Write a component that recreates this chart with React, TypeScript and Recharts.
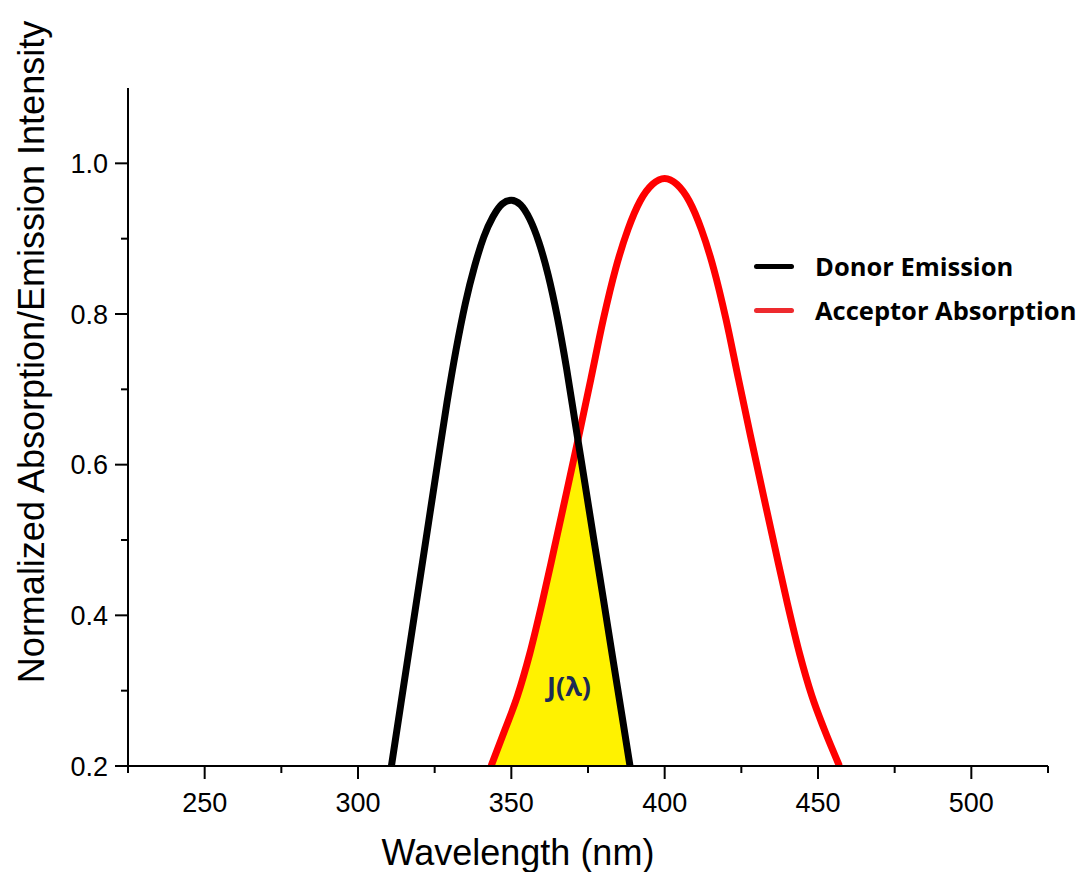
import React from 'react';
import { ComposedChart, Line, Area, XAxis, YAxis, Legend, ReferenceDot } from 'recharts';

// ---- Data ----
const donorWavelength = [310.9, 314, 317, 320, 323, 326, 329, 332, 335, 338, 341, 344, 347, 350, 353, 356, 359, 362, 365, 368, 371, 374, 377, 380, 383, 386, 388.7];
const donorIntensity = [0.2, 0.283, 0.363, 0.443, 0.523, 0.603, 0.682, 0.753, 0.814, 0.863, 0.902, 0.929, 0.946, 0.951, 0.945, 0.926, 0.895, 0.852, 0.796, 0.728, 0.651, 0.575, 0.498, 0.422, 0.345, 0.269, 0.2];

const acceptorWavelength = [343.4, 348, 352, 356, 360, 364, 368, 372, 376, 380, 384, 388, 392, 396, 400, 404, 408, 412, 416, 420, 424, 428, 432, 436, 440, 444, 448, 452, 457];
const acceptorIntensity = [0.2, 0.249, 0.293, 0.349, 0.416, 0.489, 0.563, 0.638, 0.715, 0.793, 0.86, 0.912, 0.95, 0.972, 0.98, 0.972, 0.95, 0.912, 0.86, 0.793, 0.715, 0.638, 0.563, 0.489, 0.416, 0.349, 0.293, 0.249, 0.2];

// boundary of the overlap region J(λ)
const overlapWavelength = [343.4, 348, 352, 356, 360, 364, 368, 371.7, 374, 377, 380, 383, 386, 388.7];
const overlapIntensity = [0.2, 0.249, 0.293, 0.349, 0.416, 0.489, 0.563, 0.633, 0.575, 0.498, 0.422, 0.345, 0.269, 0.2];

const xTicks = [225, 250, 275, 300, 325, 350, 375, 400, 425, 450, 475, 500, 525];
const xTickLabels = [250, 300, 350, 400, 450, 500];
const yTicks = [0.2, 0.3, 0.4, 0.5, 0.6, 0.7, 0.8, 0.9, 1.0];
const yTickLabels = [0.2, 0.4, 0.6, 0.8, 1.0];

const seriesNames = ['Donor Emission', 'Acceptor Absorption'];
const overlapLabel = 'J(λ)';
const overlapLabelPos = { wavelength: 368.8, intensity: 0.306 };
const xTitle = 'Wavelength (nm)';
const yTitle = 'Normalized Absorption/Emission Intensity';

// ---- Styling / layout ----
const W = 1086;
const H = 872;
const PLOT_LEFT = 128;
const PLOT_TOP = 88;
const PLOT_RIGHT = 1048;
const PLOT_BOTTOM = 766;
const AXIS_FONT = '"Liberation Sans", Arial, sans-serif';
const BOLD_FONT = '"Open Sans", sans-serif';
const DONOR_COLOR = '#000000';
const ACCEPTOR_COLOR = '#ff0000';
const LEGEND_COLORS = ['#000000', '#ee2a2e'];
const FILL_COLOR = '#fff200';

const donorData = donorWavelength.map((w, i) => ({ wavelength: w, donor: donorIntensity[i] }));
const acceptorData = acceptorWavelength.map((w, i) => ({ wavelength: w, acceptor: acceptorIntensity[i] }));
const overlapData = overlapWavelength.map((w, i) => ({ wavelength: w, overlap: overlapIntensity[i] }));

const isIn = (list: number[], v: number) => list.some((t) => Math.abs(t - v) < 1e-9);

const XTick = (props: any) => {
  const { x, y, payload } = props;
  const v = payload.value;
  const major = isIn(xTickLabels, v);
  return (
    <g>
      <line x1={x} y1={y} x2={x} y2={y + (major ? 13 : 7)} stroke="#000" strokeWidth={2} />
      {major && (
        <text x={x} y={y + 46} textAnchor="middle" fontSize={27} fontFamily={AXIS_FONT} fill="#000">
          {v}
        </text>
      )}
    </g>
  );
};

const YTick = (props: any) => {
  const { x, y, payload } = props;
  const v = payload.value;
  const major = isIn(yTickLabels, v);
  return (
    <g>
      <line x1={x} y1={y} x2={x - (major ? 13 : 7)} y2={y} stroke="#000" strokeWidth={2} />
      {major && (
        <text x={x - 20} y={y} dy="0.36em" textAnchor="end" fontSize={27} fontFamily={AXIS_FONT} fill="#000">
          {v.toFixed(1)}
        </text>
      )}
    </g>
  );
};

const XTitle = () => (
  <text x={518} y={865} textAnchor="middle" fontSize={36} fontFamily={AXIS_FONT} fill="#000">
    {xTitle}
  </text>
);

const YTitle = () => (
  <text
    x={44}
    y={352}
    transform="rotate(-90 44 352)"
    textAnchor="middle"
    fontSize={36}
    fontFamily={AXIS_FONT}
    fill="#000"
  >
    {yTitle}
  </text>
);

const LegendContent = () => (
  <div style={{ fontFamily: BOLD_FONT, fontWeight: 700, fontSize: 25.5, color: '#000' }}>
    {seriesNames.map((name, i) => (
      <div key={name} style={{ display: 'flex', alignItems: 'center', height: 44 }}>
        <div
          style={{
            width: 40,
            height: 5,
            marginLeft: 14,
            background: LEGEND_COLORS[i],
            borderRadius: 2.5,
          }}
        />
        <span style={{ marginLeft: 21, lineHeight: '44px', whiteSpace: 'nowrap' }}>{name}</span>
      </div>
    ))}
  </div>
);

export default function App() {
  return (
    <div style={{ position: 'absolute', left: 0, top: 0, width: W, height: H, background: '#fff' }}>
      <ComposedChart
        width={W}
        height={H}
        margin={{ top: PLOT_TOP, right: W - PLOT_RIGHT, left: 0, bottom: 0 }}
      >
        <XAxis
          type="number"
          dataKey="wavelength"
          domain={[225, 525]}
          ticks={xTicks}
          interval={0}
          allowDataOverflow
          height={H - PLOT_BOTTOM}
          tickSize={0}
          tickMargin={0}
          tickLine={false}
          axisLine={{ stroke: '#000', strokeWidth: 2 }}
          tick={XTick}
          label={{ content: XTitle }}
        />
        <YAxis
          type="number"
          domain={[0.2, 1.1]}
          ticks={yTicks}
          interval={0}
          allowDataOverflow
          width={PLOT_LEFT}
          tickSize={0}
          tickMargin={0}
          tickLine={false}
          axisLine={{ stroke: '#000', strokeWidth: 2 }}
          tick={YTick}
          label={{ content: YTitle }}
        />
        <Area
          data={overlapData}
          dataKey="overlap"
          type="linear"
          baseValue={0.2}
          fill={FILL_COLOR}
          fillOpacity={1}
          stroke="none"
          isAnimationActive={false}
          legendType="none"
        />
        <Line
          data={acceptorData}
          dataKey="acceptor"
          type="monotone"
          stroke={ACCEPTOR_COLOR}
          strokeWidth={7}
          dot={false}
          isAnimationActive={false}
        />
        <Line
          data={donorData}
          dataKey="donor"
          type="monotone"
          stroke={DONOR_COLOR}
          strokeWidth={7}
          dot={false}
          isAnimationActive={false}
        />
        <ReferenceDot
          x={overlapLabelPos.wavelength}
          y={overlapLabelPos.intensity}
          r={0}
          fill="none"
          stroke="none"
          label={{
            value: overlapLabel,
            position: 'center',
            fill: '#1c2a55',
            fontSize: 27,
            fontWeight: 700,
            fontFamily: BOLD_FONT,
          }}
        />
        <Legend
          layout="vertical"
          align="center"
          verticalAlign="middle"
          content={LegendContent}
          wrapperStyle={{ left: 740, top: 244, width: 346, height: 88 }}
        />
      </ComposedChart>
    </div>
  );
}
